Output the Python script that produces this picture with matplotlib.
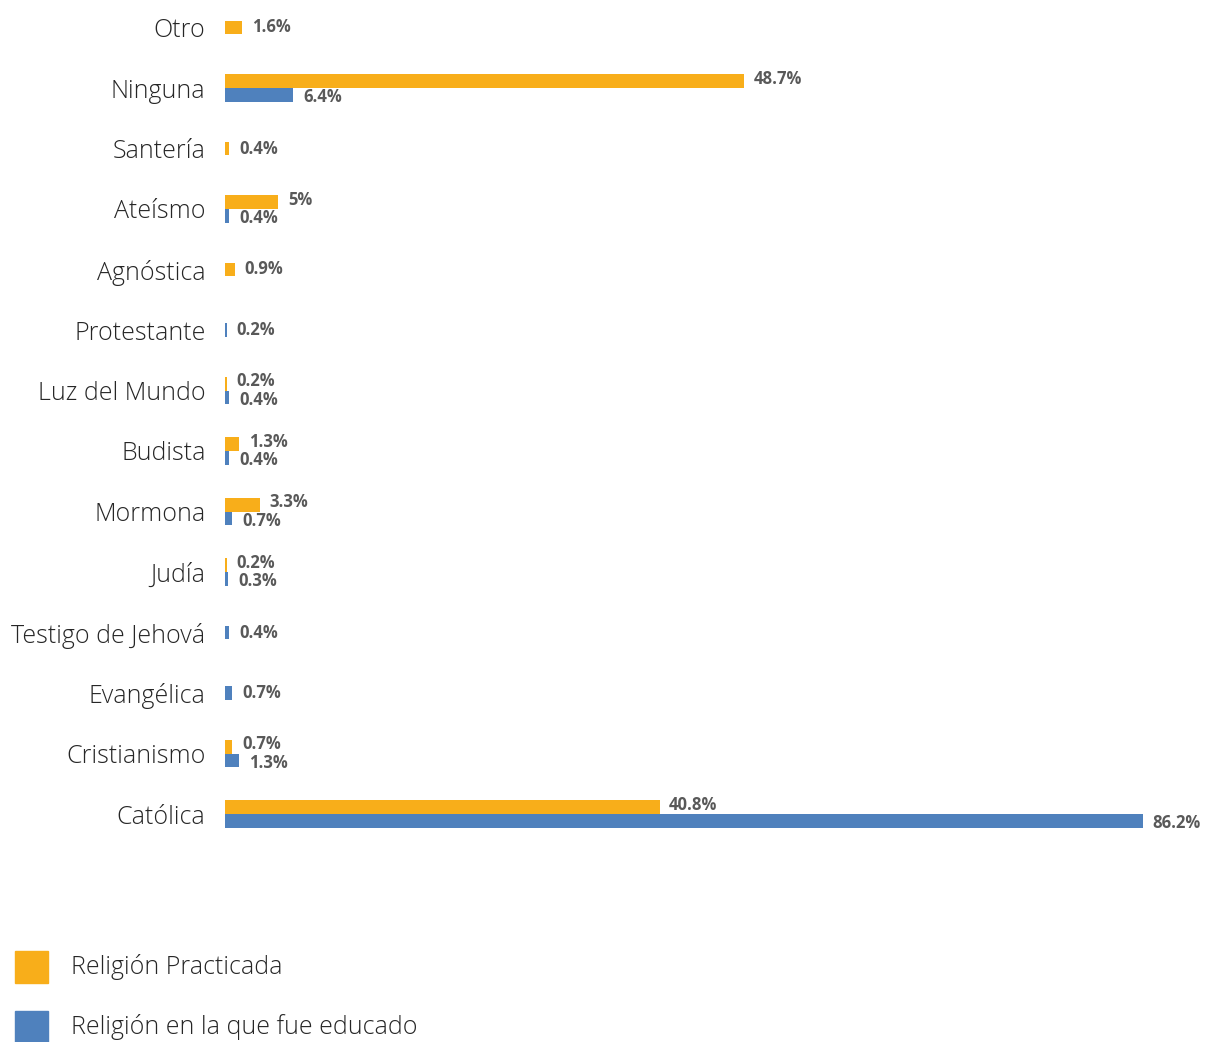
import numpy as np
import matplotlib
matplotlib.use("Agg")
import matplotlib.pyplot as plt
from matplotlib.patches import Rectangle

categories = ["Otro", "Ninguna", "Santería", "Ateísmo", "Agnóstica", "Protestante",
              "Luz del Mundo", "Budista", "Mormona", "Judía", "Testigo de Jehová",
              "Evangélica", "Cristianismo", "Católica"]
practicada = [1.6, 48.7, 0.4, 5, 0.9, None, 0.2, 1.3, 3.3, 0.2, None, None, 0.7, 40.8]
educado = [None, 6.4, None, 0.4, None, 0.2, 0.4, 0.4, 0.7, 0.3, 0.4, 0.7, 1.3, 86.2]
series_names = ["Religión Practicada", "Religión en la que fue educado"]

YELLOW = "#F8AE1A"
BLUE = "#4F81BD"
LBL = "#595959"
TXT = "#262626"

W, H = 1217, 1042
fig = plt.figure(figsize=(W / 100, H / 100), dpi=100)
top_px, bot_px = 0, 850
ax = fig.add_axes([225 / W, 1 - bot_px / H, (W - 225) / W, (bot_px - top_px) / H])
row = 60.5
ax.set_ylim((bot_px - 27.5) / row, -27.5 / row)
ax.set_xlim(0, (W - 225) / 10.65)

bh = 0.23
for i, (p, e) in enumerate(zip(practicada, educado)):
    both = p is not None and e is not None
    for val, col, off, dy in ((p, YELLOW, -bh / 2, 1.6), (e, BLUE, bh / 2, -1.6)):
        if val is None:
            continue
        y = i + (off if both else 0)
        ax.barh(y, val, height=bh, color=col, edgecolor="none")
        txt = f"{val:g}%"
        ax.annotate(txt, (val, y), xytext=(7, dy if both else 0), textcoords="offset points",
                    va="center", ha="left", fontsize=12, fontweight="bold",
                    color=LBL, family=["Open Sans", "DejaVu Sans"])

ax.set_yticks(range(len(categories)))
ax.set_yticklabels(categories, fontsize=18, color=TXT, family=["Open Sans", "DejaVu Sans"],
                   fontweight="light")
ax.tick_params(axis="y", length=0, pad=14)
ax.set_xticks([])
for s in ax.spines.values():
    s.set_visible(False)

# legend
for k, (name, col) in enumerate(zip(series_names, [YELLOW, BLUE])):
    yc = 967 + k * 60
    fig.patches.append(Rectangle((15 / W, 1 - (yc + 16) / H), 33 / W, 32 / H,
                                 transform=fig.transFigure, color=col, figure=fig))
    fig.text(71 / W, 1 - yc / H, name, va="center", ha="left", fontsize=18,
             color=TXT, family=["Open Sans", "DejaVu Sans"], fontweight="light")

fig.savefig("out.png", dpi=100)
